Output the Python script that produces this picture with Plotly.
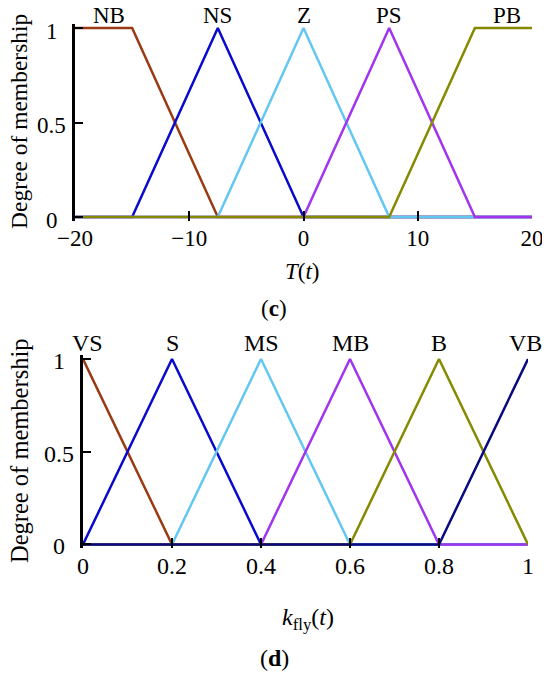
import plotly.graph_objects as go

# ---- data: panel (c) ----
t_names = ["NB", "NS", "Z", "PS", "PB"]
t_x = [
    [-20, -15, -7.5, 20],
    [-20, -15, -7.5, 0, 20],
    [-20, -7.5, 0, 7.5, 20],
    [-20, 0, 7.5, 15, 20],
    [-20, 7.5, 15, 20],
]
t_y = [
    [1, 1, 0, 0],
    [0, 0, 1, 0, 0],
    [0, 0, 1, 0, 0],
    [0, 0, 1, 0, 0],
    [0, 0, 1, 1],
]
t_label_x = [-17, -7.5, 0, 7.5, 17.8]
t_ticks = [-20, -10, 0, 10, 20]
t_ticktext = ["\u221220", "\u221210", "0", "10", "20"]

# ---- data: panel (d) ----
k_names = ["VS", "S", "MS", "MB", "B", "VB"]
k_x = [
    [0, 0.2, 1],
    [0, 0.2, 0.4, 1],
    [0, 0.2, 0.4, 0.6, 1],
    [0, 0.4, 0.6, 0.8, 1],
    [0, 0.6, 0.8, 1],
    [0, 0.8, 1],
]
k_y = [
    [1, 0, 0],
    [0, 1, 0, 0],
    [0, 0, 1, 0, 0],
    [0, 0, 1, 0, 0],
    [0, 0, 1, 0],
    [0, 0, 1],
]
k_label_x = [0.01, 0.2, 0.4, 0.6, 0.8, 0.995]
k_ticks = [0, 0.2, 0.4, 0.6, 0.8, 1]
k_ticktext = ["0", "0.2", "0.4", "0.6", "0.8", "1"]

y_ticks = [0, 0.5, 1]
y_ticktext = ["0", "0.5", "1"]

colors_c = ["#9A3A12", "#0A0ACC", "#62C8F2", "#A234F0", "#858A00"]
colors_d = ["#9A3A12", "#0A0ACC", "#62C8F2", "#A234F0", "#858A00", "#0A0A80"]

FONT = "Liberation Serif, Times New Roman, serif"
FS_C = 23
FS_D = 24

# page has an 8px body margin: figure spans page px 8..550 / 8..673
OFF = 8
W, H = 550 - OFF, 673 - OFF


def px_x(p):
    return (p - OFF) / W


def px_y(p):
    return 1 - (p - OFF) / H


fig = go.Figure()
for name, xs, ys, c in zip(t_names, t_x, t_y, colors_c):
    fig.add_trace(go.Scatter(x=xs, y=ys, mode="lines", name=name,
                             line=dict(color=c, width=2.5),
                             xaxis="x", yaxis="y", showlegend=False))
for name, xs, ys, c in zip(k_names, k_x, k_y, colors_d):
    fig.add_trace(go.Scatter(x=xs, y=ys, mode="lines", name=name,
                             line=dict(color=c, width=2.5),
                             xaxis="x2", yaxis="y2", showlegend=False))

annotations = []
for n, lx in zip(t_names, t_label_x):
    annotations.append(dict(x=lx, y=1, xref="x", yref="y", text=n, showarrow=False,
                            yshift=13, font=dict(family=FONT, size=FS_C, color="black")))
for n, lx in zip(k_names, k_label_x):
    annotations.append(dict(x=lx, y=1, xref="x2", yref="y2", text=n, showarrow=False,
                            yshift=16, font=dict(family=FONT, size=FS_D, color="black")))

# y tick labels (centred, as in the reference)
for v, s in zip(y_ticks, y_ticktext):
    annotations.append(dict(x=t_ticks[0], y=v, xref="x", yref="y", text=s, showarrow=False,
                            xanchor="center", yanchor="middle", xshift=-23.5, yshift=-3,
                            font=dict(family=FONT, size=FS_C, color="black")))
    annotations.append(dict(x=k_ticks[0], y=v, xref="x2", yref="y2", text=s, showarrow=False,
                            xanchor="center", yanchor="middle", xshift=-24.5, yshift=-2,
                            font=dict(family=FONT, size=FS_D, color="black")))

for txt, (px, py), ang, fs in [
    ("Degree of membership", (19, 122), -90, 23.5),
    ("Degree of membership", (19, 451), -90, 24.5),
    ("<i>T</i>(<i>t</i>)", (302, 271), 0, FS_C),
    ("(<b>c</b>)", (274, 308), 0, FS_C),
    ("<i>k</i><sub>fly</sub>(<i>t</i>)", (308, 619), 0, FS_D),
    ("(<b>d</b>)", (274, 658), 0, FS_D),
]:
    annotations.append(dict(x=px_x(px), y=px_y(py), xref="paper", yref="paper", text=txt,
                            showarrow=False, textangle=ang, xanchor="center", yanchor="middle",
                            font=dict(family=FONT, size=fs, color="black")))

common_x = dict(showgrid=False, zeroline=False, showline=False, ticks="inside",
                ticklen=10, tickwidth=2, tickcolor="black", automargin=False)
common_y = dict(showgrid=False, zeroline=False, showline=True, linecolor="black",
                linewidth=2.5, ticks="inside", ticklen=8, tickwidth=2, tickcolor="black",
                range=[-0.02, 1.02], tickvals=y_ticks, showticklabels=False,
                automargin=False)

fig.update_layout(
    width=W, height=H, autosize=False,
    margin=dict(l=0, r=0, t=0, b=0, pad=0, autoexpand=False),
    paper_bgcolor="white", plot_bgcolor="white",
    xaxis=dict(domain=[px_x(75), px_x(532)], range=[-20, 20], anchor="y",
               tickvals=t_ticks, ticktext=t_ticktext, ticklabelstandoff=1,
               tickfont=dict(family=FONT, size=FS_C, color="black"), **common_x),
    yaxis=dict(domain=[px_y(220.78), px_y(24.22)], anchor="x", **common_y),
    xaxis2=dict(domain=[px_x(83), px_x(528)], range=[0, 1], anchor="y2",
                tickvals=k_ticks, ticktext=k_ticktext, ticklabelstandoff=1,
                tickfont=dict(family=FONT, size=FS_D, color="black"), **common_x),
    yaxis2=dict(domain=[px_y(548.2), px_y(355.3)], anchor="x2", **common_y),
    annotations=annotations,
)

fig.write_html("out.html")
